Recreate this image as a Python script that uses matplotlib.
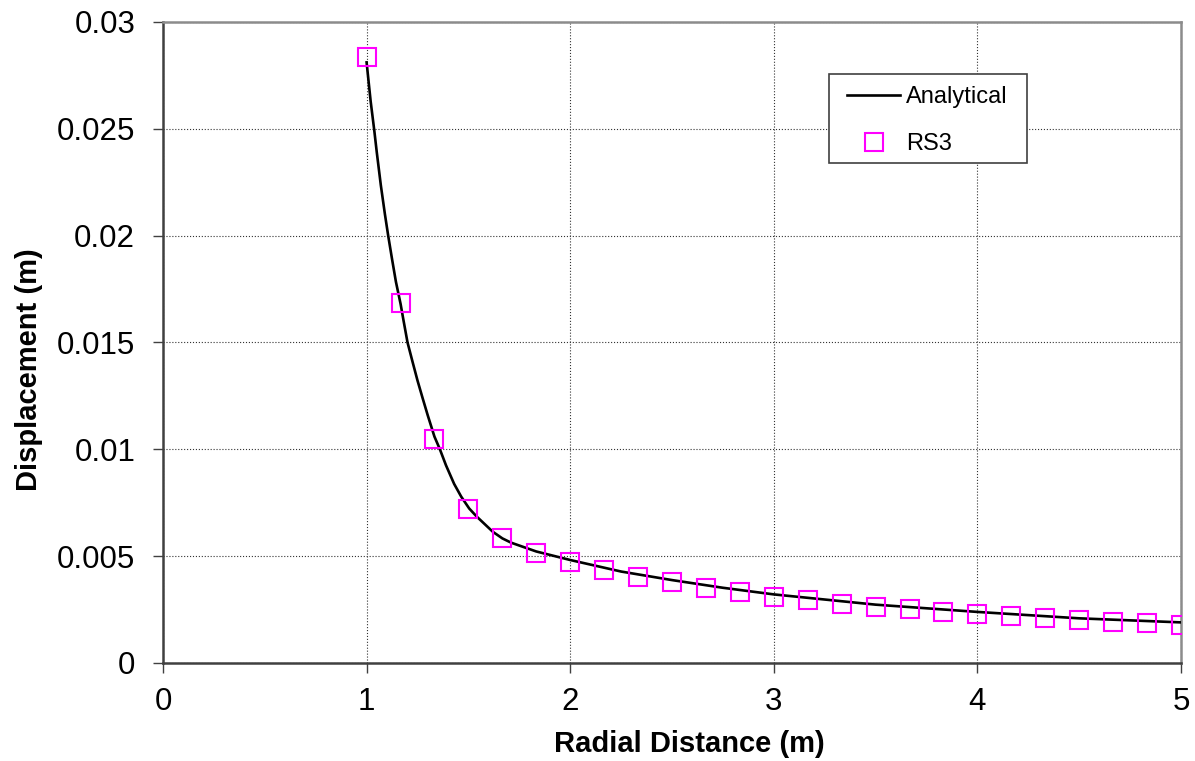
import matplotlib
matplotlib.use("Agg")
import matplotlib.pyplot as plt
from matplotlib.patches import Rectangle
import numpy as np

plt.rcParams['font.family'] = ['Liberation Sans', 'DejaVu Sans']

# analytical solution
r_analytical = [1.000, 1.020, 1.038, 1.050, 1.070, 1.090, 1.106, 1.125, 1.144,
                1.167, 1.180, 1.201, 1.225, 1.250, 1.275, 1.300, 1.333, 1.360,
                1.390, 1.430, 1.465, 1.504, 1.540, 1.580, 1.620, 1.667, 1.710,
                1.758, 1.833, 2.000, 2.250, 2.500, 2.750, 3.000, 3.500, 4.000,
                4.500, 5.000]
u_analytical = [0.02811, 0.02628, 0.02490, 0.02390, 0.02235, 0.02100, 0.02000,
                0.01890, 0.01784, 0.01680, 0.01610, 0.01500, 0.01412, 0.01322,
                0.01240, 0.01160, 0.01060, 0.01000, 0.00925, 0.00838, 0.00778,
                0.00723, 0.00686, 0.00650, 0.00614, 0.00583, 0.00563, 0.00547,
                0.00522, 0.00482, 0.00428, 0.00388, 0.00352, 0.00321, 0.00273,
                0.00239, 0.00209, 0.00190]

# RS3 results at the mesh nodes
r_rs3 = [1.000, 1.167, 1.333, 1.500, 1.667, 1.833, 2.000, 2.167, 2.333, 2.500,
         2.667, 2.833, 3.000, 3.167, 3.333, 3.500, 3.667, 3.833, 4.000, 4.167,
         4.333, 4.500, 4.667, 4.833, 5.000]
u_rs3 = [0.02837, 0.01685, 0.01048, 0.00723, 0.00586, 0.00517, 0.00474, 0.00437,
         0.00404, 0.00378, 0.00353, 0.00334, 0.00311, 0.00295, 0.00278, 0.00264,
         0.00251, 0.00240, 0.00228, 0.00218, 0.00209, 0.00200, 0.00192, 0.00186,
         0.00177]

x_ticks = [0, 1, 2, 3, 4, 5]
y_ticks = [0, 0.005, 0.01, 0.015, 0.02, 0.025, 0.03]
y_ticklabels = ['0', '0.005', '0.01', '0.015', '0.02', '0.025', '0.03']

fig = plt.figure(figsize=(11.95, 7.61), dpi=100)
ax = fig.add_axes([0.1364, 0.1288, 0.8519, 0.8423])

ax.plot(r_analytical, u_analytical, color='black', lw=1.9, label='Analytical',
        zorder=3, solid_joinstyle='round')
ax.plot(r_rs3, u_rs3, ls='none', marker='s', ms=12.5, mfc='none', mec='#ff00ff',
        mew=1.5, label='RS3', zorder=4)

ax.set_xlim(0, 5)
ax.set_ylim(0, 0.03)
ax.set_xticks(x_ticks)
ax.set_yticks(y_ticks)
ax.set_yticklabels(y_ticklabels)
ax.tick_params(axis='both', direction='out', length=7, width=1, labelsize=22.5,
               color='#404040')
ax.tick_params(axis='x', pad=10)
ax.tick_params(axis='y', pad=13)

ax.grid(True, color='#333333', ls=':', lw=0.8)
ax.set_axisbelow(True)

for side in ['left', 'bottom']:
    ax.spines[side].set_color('#404040')
    ax.spines[side].set_linewidth(1.8)
for side in ['top', 'right']:
    ax.spines[side].set_color('#8c8c8c')
    ax.spines[side].set_linewidth(1.8)

ax.set_xlabel('Radial Distance (m)', fontsize=21, fontweight='bold')
ax.set_ylabel('Displacement (m)', fontsize=21, fontweight='bold')
ax.xaxis.set_label_coords(0.5175, -0.1045)
ax.yaxis.set_label_coords(-0.118, 0.457)

# legend box drawn separately so the padding can be set per side
ax.add_patch(Rectangle((0.6542, 0.780), 0.1945, 0.1389, transform=ax.transAxes,
                       facecolor='white', edgecolor='#404040', lw=1.2,
                       zorder=5))
leg = ax.legend(loc='upper left', bbox_to_anchor=(0.6719, 0.9001), fontsize=17,
                frameon=False, borderpad=0, borderaxespad=0,
                handlelength=2.25, handletextpad=0.25, labelspacing=1.07)
leg.set_zorder(6)

fig.savefig('out.png', dpi=100)
